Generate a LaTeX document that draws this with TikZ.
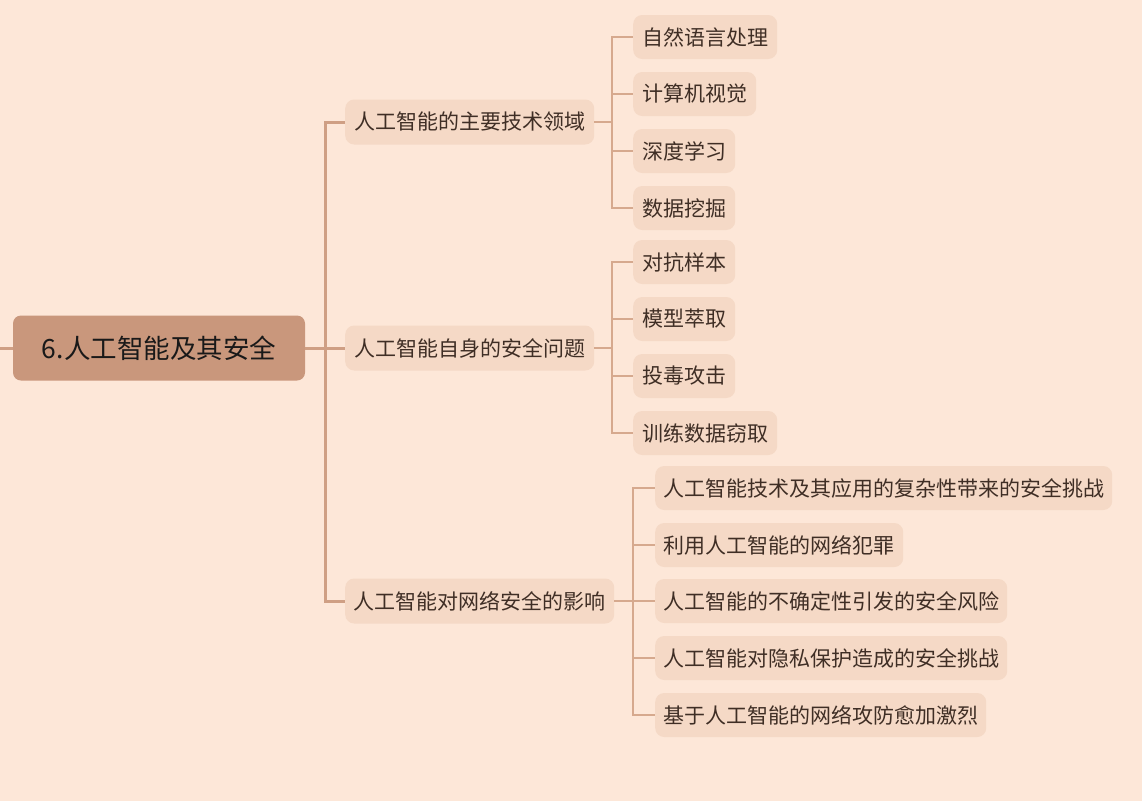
\documentclass[tikz,border=0pt]{standalone}
\usepackage{fontspec}
\setmainfont{Noto Sans CJK SC}
\definecolor{bgc}{HTML}{FDE7D8}
\definecolor{boxc}{HTML}{F5D9C6}
\definecolor{rootc}{HTML}{C9977C}
\definecolor{txtc}{HTML}{3F2E25}
\definecolor{trunkc}{HTML}{CF9F84}
\definecolor{subc}{HTML}{D6A98E}
\tikzset{
  rootbox/.style={fill=rootc, rounded corners=8pt, minimum width=292pt, minimum height=65pt, inner sep=0pt, text=black!90, font=\fontsize{26.5pt}{30pt}\selectfont},
  topicbox/.style={fill=boxc, rounded corners=9pt, minimum height=45pt, inner sep=0pt, anchor=west, text=txtc, font=\fontsize{21pt}{24pt}\selectfont},
  leafbox/.style={fill=boxc, rounded corners=9pt, minimum height=44pt, inner sep=0pt, anchor=west, text=txtc, font=\fontsize{21pt}{24pt}\selectfont},
  trunkline/.style={draw=trunkc, line width=3pt},
  subline/.style={draw=subc, line width=2pt}
}
\begin{document}
\begin{tikzpicture}[x=1pt,y=-1pt]
\fill[bgc] (0,0) rectangle (1142,801);
\useasboundingbox (0,0) rectangle (1142,801);
% root
\node[rootbox] (r) at (159,348) {6.人工智能及其安全};
\coordinate (stub) at (0,348);
% level 1
\node[topicbox, minimum width=249pt] (a) at (345,122) {人工智能的主要技术领域};
\node[topicbox, minimum width=249pt] (b) at (345,348) {人工智能自身的安全问题};
\node[topicbox, minimum width=269pt] (c) at (345,601) {人工智能对网络安全的影响};
% leaves a
\node[leafbox, minimum width=144pt] (a1) at (633,37) {自然语言处理};
\node[leafbox, minimum width=123pt] (a2) at (633,94) {计算机视觉};
\node[leafbox, minimum width=102pt] (a3) at (633,151) {深度学习};
\node[leafbox, minimum width=102pt] (a4) at (633,208) {数据挖掘};
% leaves b
\node[leafbox, minimum width=102pt] (b1) at (633,262) {对抗样本};
\node[leafbox, minimum width=102pt] (b2) at (633,319) {模型萃取};
\node[leafbox, minimum width=102pt] (b3) at (633,376) {投毒攻击};
\node[leafbox, minimum width=144pt] (b4) at (633,433) {训练数据窃取};
% leaves c
\node[leafbox, minimum width=457pt] (c1) at (655,488) {人工智能技术及其应用的复杂性带来的安全挑战};
\node[leafbox, minimum width=248pt] (c2) at (655,545) {利用人工智能的网络犯罪};
\node[leafbox, minimum width=352pt] (c3) at (655,601) {人工智能的不确定性引发的安全风险};
\node[leafbox, minimum width=352pt] (c4) at (655,658) {人工智能对隐私保护造成的安全挑战};
\node[leafbox, minimum width=331pt] (c5) at (655,715) {基于人工智能的网络攻防愈加激烈};
% connectors
\draw[trunkline] (stub) -- (r.west);
\draw[trunkline] (r.east) -- ++(20,0) |- (a.west);
\draw[trunkline] (r.east) -- (b.west);
\draw[trunkline] (r.east) -- ++(20,0) |- (c.west);
\foreach \n in {a1,a2,a3,a4} \draw[subline] (a.east) -- ++(18,0) |- (\n.west);
\foreach \n in {b1,b2,b3,b4} \draw[subline] (b.east) -- ++(18,0) |- (\n.west);
\foreach \n in {c1,c2,c3,c4,c5} \draw[subline] (c.east) -- ++(19,0) |- (\n.west);
\end{tikzpicture}
\end{document}
